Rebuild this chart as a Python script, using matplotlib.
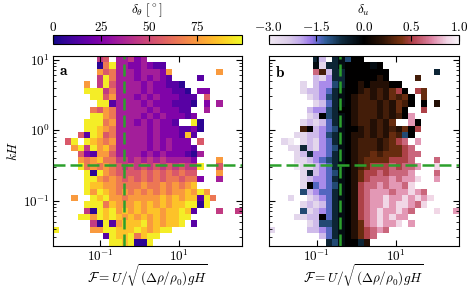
import numpy as np
import matplotlib.pyplot as plt
from matplotlib.colors import LinearSegmentedColormap, TwoSlopeNorm, Normalize
from matplotlib.ticker import LogLocator, NullLocator

plt.rcParams['font.family'] = 'serif'
plt.rcParams['font.serif'] = ['cmr10', 'DejaVu Serif']
plt.rcParams['mathtext.fontset'] = 'cm'
plt.rcParams['axes.formatter.use_mathtext'] = True
plt.rcParams['font.size'] = 9.5

# bin edges (log10) of the 2D histograms, 30 x 30 cells
logF_range = (-2.22, 2.61)
logkH_range = (-1.64, 1.05)
n_bins = 30

F_crit = 0.40
kH_crit = 0.32

# panel a: delta_theta, one char per cell, value = 10*digit + 5, '.' = empty
# rows from top (large kH) to bottom (small kH)
dtheta_rows = [
    ".......45.33423...............",
    ".......06933223211............",
    ".......756333233327.......7...",
    ".......496333232321....1......",
    ".....7.49533332322110.........",
    ".....9994633332322211" "0.22.....",
    "......9957" "3332323222111" ".5.....",
    ".......991" "3333232221110" ".2.3...",
    "......6576" "333332322211" "..3.....",
    "......9976" "333323232221" "2.......",
    ".....99967" "3332323221" "..90......",
    ".....99876" "333332322211" "20......",
    "....519856" "33333232221" "81.......",
    "..59.98767" "333332323222" ".5......",
    "...7949786" "3333323232221" ".......",
    "....521775" "3333232322210" "3......",
    "....767866" "4434343433332" "...7...",
    "....967676" "5454545454544" "9..5...",
    ".....90976" "5555656565655" "...7...",
    ".....99767" "6565656566566" "2..3...",
    ".....98877" "6666766767678" ".......",
    ".....97987" "6767676767787" "97.....",
    "...7..9897" "7677777878788" "196....",
    ".....99968" "777878787889" "909.....",
    ".....40989" "787878878898" "1...4..4",
    "....997989" "87878787889" "9........",
    "......4091" "78889787889" ".1.......",
    "9.....7799" "88898789" "9...........",
    "........19" "8896899" ".............",
    ".........9" "989009" "..............",
]

# panel b: delta_u, letters map to values below
du_levels = {
    'a': -3.0, 'b': -2.6, 'c': -2.2, 'd': -1.8, 'e': -1.4, 'f': -1.0,
    'g': -0.6, 'h': -0.2, 'k': 0.0, 'm': 0.15, 'n': 0.25, 'o': 0.35,
    'p': 0.5, 'q': 0.62, 'r': 0.75, 's': 0.88, 't': 1.0,
}
du_rows = [
    ".......gc.ghfkk...............",
    ".......hbgghkkkkhk............",
    ".......qncggkkkkkkk.......g...",
    ".......cbdggkkkkkmk....n......",
    ".....b.cddfgkkmkmmmkk.........",
    ".....bccdeghkkmnmnmopk.po.....",
    "......bcdfghkmnnmnmonok.o.....",
    ".......bceghkmnnnmnmonk.k.m...",
    "......cddfgkkmnnnmnmok..p.....",
    "......bckfghkmnnnmnmnkr.......",
    ".....bcbceghkmnnmnmo..rk......",
    ".....nkcdefhkkmnmnmnmokp......",
    "....bbccdfghkmmnmnmonfk.......",
    "..ba.bcbdeghkmnnnmnopq.r......",
    "...bbgcbdefhkmnnnmnoopq.......",
    "....bcgddeghkmnnonooopqq......",
    "....bbcdefghkmnoooopppq...q...",
    "....abbcdeghkmnopppqpqqr..s...",
    ".....bgcdefhkmoppqpqqqr...q...",
    ".....bcddeghkmopqqqrqrrs..r...",
    ".....bkedefhkmpqqrqrrqs.......",
    ".....fcdeeghkmpqrrrqrrsrq.....",
    "...b..bcdeghkmpqrrsrrsrsrs....",
    ".....bcbceghkmpqrrsrssrqs.....",
    ".....fbcdeghkmpqrsrrsrq...s..r",
    "....bbcckeghkmpqrsrsrr........",
    "......bcffghkmoqrsrrs.r.......",
    "b.....ccdeghkmopqrq...........",
    "........ceghkmopq.............",
    ".........gfhkkgm..............",
]


def grid_from_rows(rows, conv):
    g = np.full((n_bins, n_bins), np.nan)
    for i, row in enumerate(rows):
        row = row.ljust(n_bins, '.')[:n_bins]
        for j, c in enumerate(row):
            if c != '.':
                g[i, j] = conv(c)
    return np.flipud(g)


dtheta = grid_from_rows(dtheta_rows, lambda c: 10 * int(c) + 5)
du = grid_from_rows(du_rows, lambda c: du_levels[c])

F_edges = np.logspace(logF_range[0], logF_range[1], n_bins + 1)
kH_edges = np.logspace(logkH_range[0], logkH_range[1], n_bins + 1)

du_cmap = LinearSegmentedColormap.from_list('du', [
    (0.0, '#f0e8f3'), (0.1, '#dccde9'), (0.17, '#c0a8ec'),
    (0.22, '#9a78e8'), (0.26, '#5a68c8'), (0.30, '#2f5d98'),
    (0.38, '#0f2c40'), (0.5, '#000000'), (0.6, '#2e1406'),
    (0.7, '#7a3412'), (0.76, '#b4434e'), (0.86, '#df86a6'),
    (0.94, '#f1d6e6'), (1.0, '#f8f4f8'),
])

fig = plt.figure(figsize=(4.69, 2.88), dpi=100)
ax_a = fig.add_axes([0.1120, 0.1469, 0.4030, 0.6587])
ax_b = fig.add_axes([0.5729, 0.1469, 0.4058, 0.6587])
cax_a = fig.add_axes([0.1120, 0.846, 0.4030, 0.0323])
cax_b = fig.add_axes([0.5729, 0.846, 0.4058, 0.0323])

mesh_a = ax_a.pcolormesh(F_edges, kH_edges, np.ma.masked_invalid(dtheta),
                         cmap='plasma', norm=Normalize(0, 98), linewidth=0)
mesh_b = ax_b.pcolormesh(F_edges, kH_edges, np.ma.masked_invalid(du),
                         cmap=du_cmap, norm=TwoSlopeNorm(vmin=-3, vcenter=0, vmax=1),
                         linewidth=0)

for ax, lab in ((ax_a, 'a'), (ax_b, 'b')):
    ax.set_xscale('log')
    ax.set_yscale('log')
    ax.set_xlim(F_edges[0], F_edges[-1])
    ax.set_ylim(kH_edges[0], kH_edges[-1])
    ax.set_xticks([1e-1, 1e1])
    ax.xaxis.set_minor_locator(NullLocator())
    ax.yaxis.set_major_locator(LogLocator(base=10))
    ax.yaxis.set_minor_locator(LogLocator(base=10, subs=np.arange(2, 10)))
    ax.tick_params(which='both', direction='in', top=True, right=True, pad=2)
    ax.tick_params(which='major', length=4, width=0.8)
    ax.tick_params(which='minor', length=2, width=0.6)
    ax.axvline(F_crit, color='#2ca02c', lw=1.8, ls=(0, (4.8, 2)))
    ax.axhline(kH_crit, color='#2ca02c', lw=1.8, ls=(0, (4.8, 2)))
    ax.set_xlabel(r'$\mathcal{F} = U/\sqrt{(\Delta\rho/\rho_0)gH}$')
    ax.xaxis.set_label_coords(0.5, -0.16)
    ax.xaxis.label.set_va('center')
    ax.text(0.035, 0.955, r'$\mathbf{%s}$' % lab, transform=ax.transAxes,
            ha='left', va='top', fontsize=11)

ax_a.set_ylabel(r'$kH$', labelpad=2)
ax_b.tick_params(labelleft=False)

cb_a = fig.colorbar(mesh_a, cax=cax_a, orientation='horizontal')
cb_a.set_ticks([0, 25, 50, 75])
cb_a.set_ticklabels([r'$0$', r'$25$', r'$50$', r'$75$'])

cb_b = fig.colorbar(mesh_b, cax=cax_b, orientation='horizontal')
cb_b.set_ticks([-3.0, -1.5, 0.0, 0.5, 1.0])
cb_b.set_ticklabels([r'$-3.0$', r'$-1.5$', r'$0.0$', r'$0.5$', r'$1.0$'])

for cax in (cax_a, cax_b):
    cax.xaxis.set_ticks_position('top')
    cax.tick_params(direction='in', length=4, width=0.8, pad=1)
    cax.minorticks_off()

# colorbar titles
fig.text(0.1120 + 0.4030 / 2, 1 - 10 / 288, r'$\delta_\theta\ [^\circ]$',
         ha='center', va='center')
fig.text(0.5729 + 0.4058 / 2, 1 - 10 / 288, r'$\delta_u$',
         ha='center', va='center')

fig.savefig('out.png', dpi=100)
